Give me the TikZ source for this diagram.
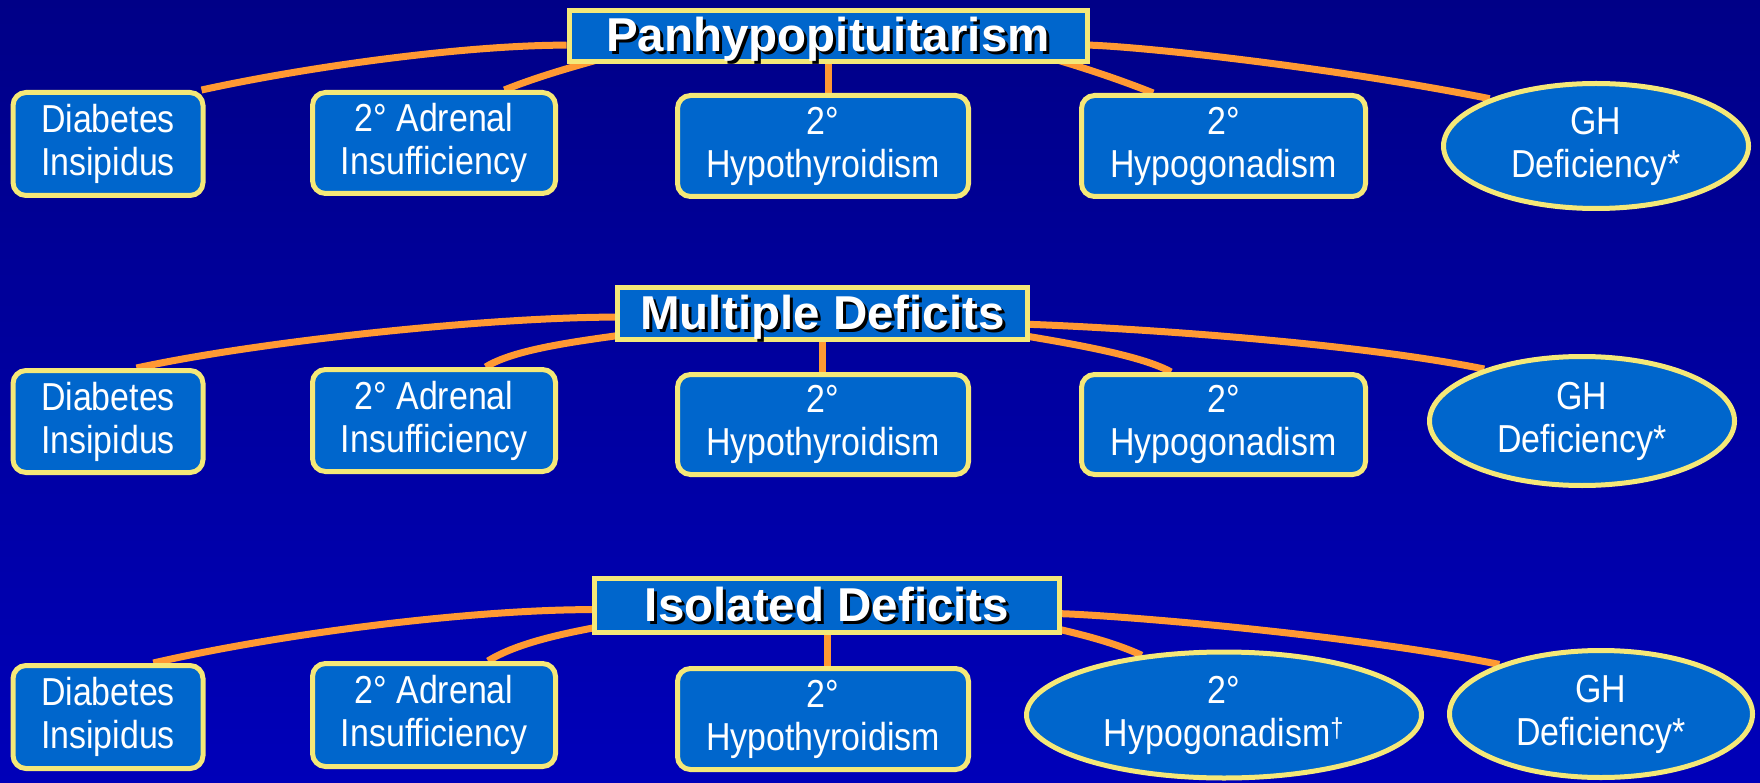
\documentclass[tikz,border=0pt]{standalone}
\usepackage{fontspec}
\setmainfont{Liberation Sans}
\newfontfamily\narrowsans[FakeStretch=0.87]{Liberation Sans}
\usetikzlibrary{shapes.geometric}

\definecolor{navytop}{RGB}{0,0,135}
\definecolor{navymid}{RGB}{0,0,200}
\definecolor{navybot}{RGB}{0,0,185}
\definecolor{boxblue}{RGB}{0,102,204}
\definecolor{rimyellow}{RGB}{245,232,120}
\definecolor{linkorange}{RGB}{255,153,51}

\pgfdeclarelayer{back}
\pgfdeclarelayer{links}
\pgfsetlayers{back,links,main}

% white heading text with a black drop shadow
\newcommand\dropshadow[1]{\makebox[0pt][l]{\hspace{3pt}\raisebox{-3pt}{\textcolor{black}{#1}}}#1}

\tikzset{
  headbox/.style={draw=rimyellow, line width=5pt, fill=boxblue, text=white,
    inner sep=0pt, font=\bfseries\fontsize{47.5}{52}\selectfont,
    text height=35pt, text depth=3pt},
  leafbox/.style={draw=rimyellow, line width=5pt, fill=boxblue, text=white,
    inner sep=0pt, align=center, rounded corners=13pt,
    font=\narrowsans\fontsize{39}{43}\selectfont},
  leafoval/.style={leafbox, sharp corners, ellipse},
  link/.style={draw=linkorange, line width=7pt},
}

\begin{document}
\begin{tikzpicture}[x=1pt, y=-1pt]
\useasboundingbox (0,0) rectangle (1760,783);
\begin{pgfonlayer}{back}
  \shade[top color=navytop, middle color=navymid, bottom color=navybot]
    (0,0) rectangle (1760,783);
\end{pgfonlayer}

% ---- Panhypopituitarism ----
\node[headbox, minimum width=518pt, minimum height=51pt] (T1) at (828,36) {\dropshadow{Panhypopituitarism}};
\node[leafbox, minimum width=190pt, minimum height=103pt] (D1) at (108,144) {Diabetes\\Insipidus};
\node[leafbox, minimum width=243pt, minimum height=101pt] (A1) at (434,143) {2° Adrenal\\Insufficiency};
\node[leafbox, minimum width=291pt, minimum height=101pt] (H1) at (823,146) {2°\\Hypothyroidism};
\node[leafbox, minimum width=284pt, minimum height=101pt] (G1) at (1223.5,146) {2°\\Hypogonadism};
\node[leafoval, minimum width=305pt, minimum height=125pt] (E1) at (1596,146) {GH\\Deficiency*};

% ---- Multiple Deficits ----
\node[headbox, minimum width=410pt, minimum height=52pt] (T2) at (822.5,313.5) {\dropshadow{Multiple Deficits}};
\node[leafbox, minimum width=190pt, minimum height=102pt] (D2) at (108,421.5) {Diabetes\\Insipidus};
\node[leafbox, minimum width=243pt, minimum height=102pt] (A2) at (434,420.5) {2° Adrenal\\Insufficiency};
\node[leafbox, minimum width=291pt, minimum height=100pt] (H2) at (823,424.5) {2°\\Hypothyroidism};
\node[leafbox, minimum width=284pt, minimum height=100pt] (G2) at (1223.5,424.5) {2°\\Hypogonadism};
\node[leafoval, minimum width=305pt, minimum height=129pt] (E2) at (1582,421) {GH\\Deficiency*};

% ---- Isolated Deficits ----
\node[headbox, minimum width=465pt, minimum height=54pt] (T3) at (827,605.5) {\dropshadow{Isolated Deficits}};
\node[leafbox, minimum width=190pt, minimum height=103pt] (D3) at (108,717) {Diabetes\\Insipidus};
\node[leafbox, minimum width=243pt, minimum height=103pt] (A3) at (434,715) {2° Adrenal\\Insufficiency};
\node[leafbox, minimum width=291pt, minimum height=101pt] (H3) at (823,719) {2°\\Hypothyroidism};
\node[leafoval, minimum width=395pt, minimum height=126pt] (G3) at (1224,715) {2°\\Hypogonadism\textsuperscript{†}};
\node[leafoval, minimum width=303pt, minimum height=127pt] (E3) at (1601,714) {GH\\Deficiency*};

\begin{pgfonlayer}{links}
  % first tier: the two inner curves run in under the heading box
  \draw[link] (D1.30) .. controls +(110,-24) and +(-100,0) .. (T1.182);
  \draw[link] (A1.37) .. controls +(40,-16) and +(-50,14) .. ([shift={(70,-15)}]T1.south west);
  \draw[link] (T1.south) -- (T1.south |- H1.north);
  \draw[link] (G1.143) .. controls +(-40,-16) and +(50,14) .. ([shift={(-70,-15)}]T1.south east);
  \draw[link] (E1.156) .. controls +(-150,-30) and +(60,2) .. (T1.358);
  % second tier
  \draw[link] (D2.62) .. controls +(130,-28) and +(-120,0) .. (T2.181);
  \draw[link] (A2.46) .. controls +(35,-22) and +(-45,8) .. ([shift={(40,-12)}]T2.south west);
  \draw[link] (T2.south) -- (T2.south |- H2.north);
  \draw[link] (G2.135) .. controls +(-35,-20) and +(45,8) .. ([shift={(-40,-12)}]T2.south east);
  \draw[link] (E2.152) .. controls +(-150,-30) and +(60,2) .. (T2.357);
  % third tier
  \draw[link] (D3.50) .. controls +(130,-30) and +(-120,0) .. (T3.181);
  \draw[link] (A3.45) .. controls +(35,-22) and +(-45,8) .. ([shift={(40,-14)}]T3.south west);
  \draw[link] (T3.south) -- (T3.south |- H3.north);
  \draw[link] (G3.144) .. controls +(-35,-16) and +(45,10) .. ([shift={(-40,-14)}]T3.south east);
  \draw[link] (E3.154) .. controls +(-150,-30) and +(60,2) .. (T3.358);
\end{pgfonlayer}
\end{tikzpicture}
\end{document}
